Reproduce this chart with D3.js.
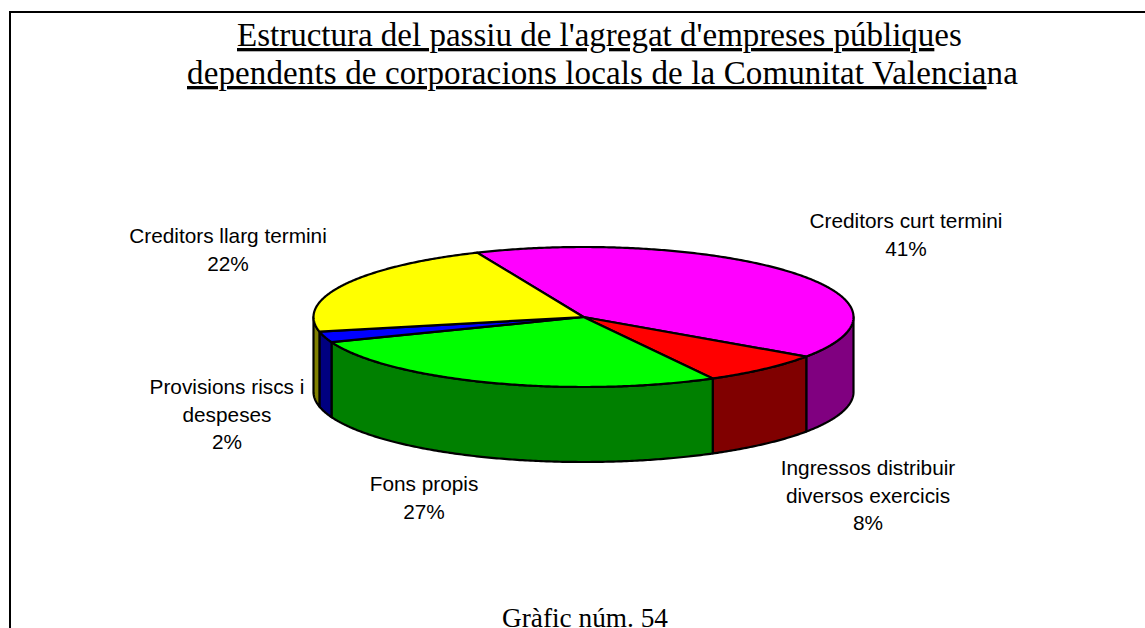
<!DOCTYPE html>
<html><head><meta charset="utf-8">
<script src="https://cdn.jsdelivr.net/npm/d3@7/dist/d3.min.js"></script>
<style>html,body{margin:0;padding:0;background:#fff;overflow:hidden}svg{display:block}</style>
</head><body><svg id="c" width="1145" height="628"></svg>
<script>
const categories = ["Creditors curt termini","Ingressos distribuir diversos exercicis","Fons propis","Provisions riscs i despeses","Creditors llarg termini"];
const values = [41.0,7.5,27.1,2.5,21.9];
const percentLabels = ["41%","8%","27%","2%","22%"];
const topColors = ["#ff00ff","#ff0000","#00ff00","#0000ff","#ffff00"];
const sideColors = ["#800080","#800000","#008000","#000080","#808000"];
const labelLines = [["Creditors curt termini"],["Ingressos distribuir","diversos exercicis"],["Fons propis"],["Provisions riscs i","despeses"],["Creditors llarg termini"]];
const labelAnchors = [[906,228],[868,475],[424,491],[227,394],[228,243]];
const titleLines = [
  {x:237,y:46,sp:0,u:"Estructura del passiu de l'agregat d'empreses públiqu",r:"es"},
  {x:187,y:84,sp:0.13,u:"dependents de corporacions locals de la Comunitat Valencia",r:"na"}
];
const W=1145,H=628,cx=583.5,cy=317,rx=270,ry=70,depth=75;
const svg=d3.select("#c");
svg.append("path").attr("d",d3.line()([[10,H],[10,12],[W,12]])).attr("fill","none").attr("stroke","#000").attr("stroke-width",2);

const t=svg.append("g").attr("font-family","'Liberation Serif'").attr("font-size",33).attr("fill","#000");
titleLines.forEach(l=>{
  const e=t.append("text").attr("x",l.x).attr("y",l.y).attr("letter-spacing",l.sp);
  e.append("tspan").attr("text-decoration","underline").text(l.u);
  e.append("tspan").text(l.r);
});
t.append("text").attr("x",585).attr("y",626.5).attr("text-anchor","middle").attr("font-size",27.3).text("Gràfic núm. 54");

const start=-23.2*Math.PI/180;
const arcs=d3.pie().sort(null).startAngle(start).endAngle(start+2*Math.PI)(values);
const px=d3.scaleLinear().domain([-1,1]).range([cx-rx,cx+rx]);
const py=d3.scaleLinear().domain([-1,1]).range([cy-ry,cy+ry]);
const pt=(a,dz=0)=>[px(Math.sin(a)),py(-Math.cos(a))+dz];
const samples=(a0,a1)=>{const n=Math.max(2,Math.ceil(Math.abs(a1-a0)/0.01));return d3.range(n+1).map(i=>a0+(a1-a0)*i/n);};
const line=d3.line();
const g=svg.append("g").attr("stroke","#000").attr("stroke-width",2.2).attr("stroke-linejoin","round");
arcs.forEach((d,i)=>{
  const lo=Math.max(d.startAngle,Math.PI/2), hi=Math.min(d.endAngle,3*Math.PI/2);
  if(hi<=lo) return;
  const s=samples(lo,hi);
  const pts=s.map(a=>pt(a)).concat(s.slice().reverse().map(a=>pt(a,depth)));
  g.append("path").attr("d",line(pts)+"Z").attr("fill",sideColors[i]);
});
arcs.forEach((d,i)=>{
  const pts=[[cx,cy]].concat(samples(d.startAngle,d.endAngle).map(a=>pt(a)));
  g.append("path").attr("d",line(pts)+"Z").attr("fill",topColors[i]);
});
const lab=svg.append("g").attr("font-family","'Liberation Sans'").attr("font-size",20.8).attr("text-anchor","middle").attr("fill","#000");
categories.forEach((c,i)=>{
  const e=lab.append("text").attr("x",labelAnchors[i][0]).attr("y",labelAnchors[i][1]);
  labelLines[i].concat([percentLabels[i]]).forEach((s,k)=>{
    e.append("tspan").attr("x",labelAnchors[i][0]).attr("dy",k?27.7:0).text(s);
  });
});
</script></body></html>
